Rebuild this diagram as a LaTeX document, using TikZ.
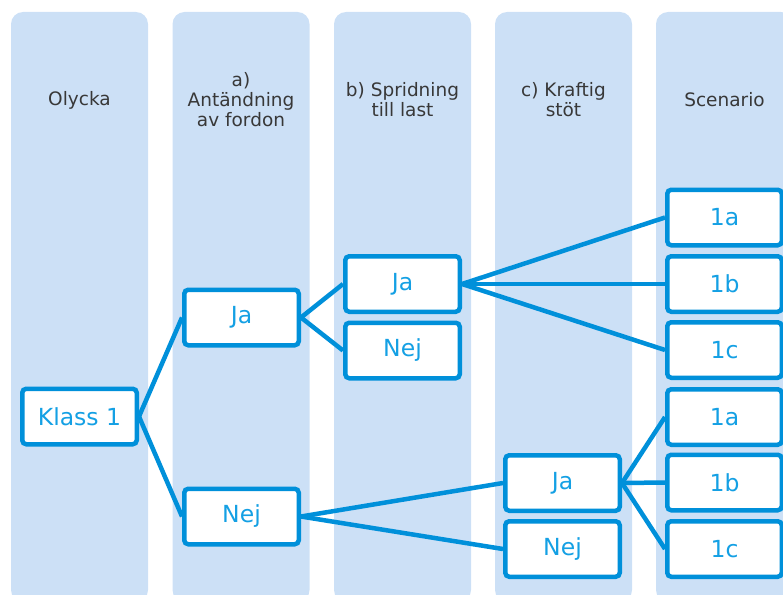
\documentclass[tikz,border=0pt]{standalone}
\usepackage{fontspec}
\setmainfont{DejaVu Sans}
\usetikzlibrary{positioning}
\definecolor{colfill}{RGB}{204,224,246}
\definecolor{boxline}{RGB}{0,144,218}
\definecolor{boxtext}{RGB}{20,160,228}
\definecolor{headtext}{RGB}{56,56,56}

\begin{document}
\begin{tikzpicture}[x=1pt, y=-1pt,
    col/.style={fill=colfill, rounded corners=12pt},
    head/.style={text=headtext, align=center, font=\fontsize{18.5}{20}\selectfont},
    box/.style={draw=boxline, line width=4.5pt, fill=white, rounded corners=4pt,
        minimum width=114.5pt, minimum height=55.5pt, inner sep=0pt,
        text=boxtext, font=\fontsize{23.5}{27}\selectfont},
    link/.style={draw=boxline, line width=4.5pt}]
    \useasboundingbox (0,0) rectangle (783,594);

    % Columns
    \foreach \x in {11,172.5,334,495,656}
        \fill[col] (\x,12) rectangle ++(137,590);

    % Headers
    \node[head] (h-olycka) at (79.5,100) {Olycka};
    \node[head] (h-a) at (241,100) {a)\\Antändning\\av fordon};
    \node[head] (h-b) at (402.5,100) {b) Spridning\\till last};
    \node[head] (h-c) at (563.5,100) {c) Kraftig\\stöt};
    \node[head] (h-scen) at (724.5,100) {Scenario};

    % Tree
    \node[box] (klass) at (79.5,416.5) {Klass 1};
    \node[box] (a-ja) at (241.5,317.5) {Ja};
    \node[box] (a-nej) at (241.5,516.5) {Nej};
    \node[box] (b-ja) at (402.5,284) {Ja};
    \node[box] (b-nej) at (402.5,350.5) {Nej};
    \node[box] (c-ja) at (562.5,483) {Ja};
    \node[box] (c-nej) at (562.5,549) {Nej};

    % Scenarios
    \node[box] (s1a) at (724.5,217.5) {1a};
    \node[box] (s1b) at (724.5,284) {1b};
    \node[box] (s1c) at (724.5,350) {1c};
    \node[box] (t1a) at (724.5,417) {1a};
    \node[box] (t1b) at (724.5,482.5) {1b};
    \node[box] (t1c) at (724.5,549) {1c};

    % Connectors
    \draw[link] (klass.east) -- (a-ja.west);
    \draw[link] (klass.east) -- (a-nej.west);
    \draw[link] (a-ja.east) -- (b-ja.west);
    \draw[link] (a-ja.east) -- (b-nej.west);
    \draw[link] (a-nej.east) -- (c-ja.west);
    \draw[link] (a-nej.east) -- (c-nej.west);
    \draw[link] (b-ja.east) -- (s1a.west);
    \draw[link] (b-ja.east) -- (s1b.west);
    \draw[link] (b-ja.east) -- (s1c.west);
    \draw[link] (c-ja.east) -- (t1a.west);
    \draw[link] (c-ja.east) -- (t1b.west);
    \draw[link] (c-ja.east) -- (t1c.west);
\end{tikzpicture}
\end{document}
